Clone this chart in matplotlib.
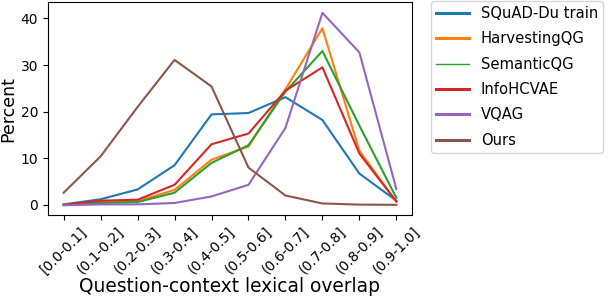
import matplotlib
matplotlib.use('Agg')
import matplotlib.pyplot as plt

# Data
# ---------------------------
bins = ['[0.0-0.1]', '(0.1-0.2]', '(0.2-0.3]', '(0.3-0.4]', '(0.4-0.5]',
        '(0.5-0.6]', '(0.6-0.7]', '(0.7-0.8]', '(0.8-0.9]', '(0.9-1.0]']
squad = [0.1, 1.2, 3.3, 8.5, 19.4, 19.7, 23.1, 18.2, 6.7, 0.9]
harvesting = [0.0, 0.6, 0.8, 3.2, 9.7, 12.5, 24.8, 37.9, 11.6, 0.7]
semantic = [0.0, 0.4, 0.6, 2.6, 9.0, 12.8, 24.3, 33.0, 17.0, 1.5]
infohcvae = [0.0, 0.9, 1.1, 4.3, 13.0, 15.3, 24.5, 29.5, 11.0, 0.7]
vqag = [-0.1, 0.1, 0.1, 0.4, 1.8, 4.3, 16.5, 41.2, 32.7, 3.4]
ours = [2.6, 10.4, 21.0, 31.1, 25.4, 8.0, 2.0, 0.3, 0.05, 0.0]

series = [('SQuAD-Du train', squad), ('HarvestingQG', harvesting),
          ('SemanticQG', semantic), ('InfoHCVAE', infohcvae),
          ('VQAG', vqag), ('Ours', ours)]

# Draw figure
# -----------
fig = plt.figure(figsize=(6.12, 3.0), dpi=100)
ax = fig.add_axes([0.078, 0.283, 0.595, 0.71])

x = list(range(len(bins)))
for name, vals in series:
    ax.plot(x, vals, linewidth=1.5, label=name)

ax.set_xticks(x)
ax.set_xticklabels(bins, rotation=45, fontsize=10)
ax.tick_params(axis='y', labelsize=10)
ax.set_yticks([0, 10, 20, 30, 40])
ax.set_ylim(-2.2, 43.5)
ax.set_xlim(-0.43, 9.42)
ax.set_ylabel('Percent', fontsize=12.5, labelpad=2)
ax.set_xlabel('Question-context lexical overlap', fontsize=13.4, labelpad=0)

leg = ax.legend(loc='upper left', bbox_to_anchor=(1.052, 1.005), fontsize=10.6,
                borderaxespad=0, handlelength=2.25, handletextpad=0.8,
                borderpad=0.35, labelspacing=0.7)
for i, h in enumerate(leg.get_lines()):
    h.set_linewidth(1.0 if i == 2 else 2.2)

plt.savefig('out.png', dpi=100, facecolor='w')
